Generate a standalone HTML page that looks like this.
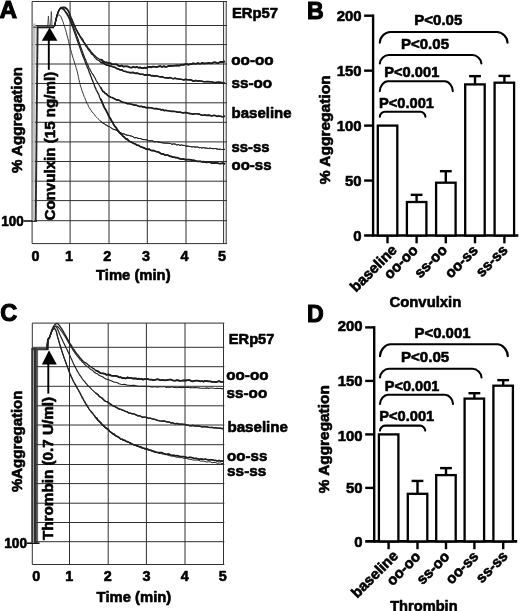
<!DOCTYPE html>
<html><head><meta charset="utf-8"><title>Figure</title>
<style>
html,body{margin:0;padding:0;background:#fff;}
body{width:520px;height:611px;overflow:hidden;}
svg{display:block;}
svg text{font-family:"Liberation Sans", sans-serif;font-weight:bold;fill:#000;stroke:#000;stroke-width:0.6px;stroke-linejoin:round;}
svg text.pl{stroke-width:1.1px;stroke-linejoin:miter;}
</style></head><body>
<svg width="520" height="611" viewBox="0 0 520 611">
<rect x="0" y="0" width="520" height="611" fill="#fff"/>
<line x1="32.1" y1="1.5" x2="32.1" y2="243.6" stroke="#303030" stroke-width="1.0" stroke-linecap="butt"/>
<line x1="70.1" y1="1.5" x2="70.1" y2="243.6" stroke="#303030" stroke-width="1.0" stroke-linecap="butt"/>
<line x1="109.0" y1="1.5" x2="109.0" y2="243.6" stroke="#303030" stroke-width="1.0" stroke-linecap="butt"/>
<line x1="147.3" y1="1.5" x2="147.3" y2="243.6" stroke="#303030" stroke-width="1.0" stroke-linecap="butt"/>
<line x1="186.0" y1="1.5" x2="186.0" y2="243.6" stroke="#303030" stroke-width="1.0" stroke-linecap="butt"/>
<line x1="223.6" y1="1.5" x2="223.6" y2="243.6" stroke="#303030" stroke-width="1.0" stroke-linecap="butt"/>
<line x1="226.2" y1="1.5" x2="226.2" y2="243.6" stroke="#303030" stroke-width="1.0" stroke-linecap="butt"/>
<line x1="32.1" y1="1.5" x2="227.0" y2="1.5" stroke="#303030" stroke-width="1.0" stroke-linecap="butt"/>
<line x1="32.1" y1="25.5" x2="227.0" y2="25.5" stroke="#303030" stroke-width="1.0" stroke-linecap="butt"/>
<line x1="32.1" y1="44.6" x2="227.0" y2="44.6" stroke="#303030" stroke-width="1.0" stroke-linecap="butt"/>
<line x1="32.1" y1="64.0" x2="227.0" y2="64.0" stroke="#303030" stroke-width="1.0" stroke-linecap="butt"/>
<line x1="32.1" y1="83.5" x2="227.0" y2="83.5" stroke="#303030" stroke-width="1.0" stroke-linecap="butt"/>
<line x1="32.1" y1="102.8" x2="227.0" y2="102.8" stroke="#303030" stroke-width="1.0" stroke-linecap="butt"/>
<line x1="32.1" y1="122.3" x2="227.0" y2="122.3" stroke="#303030" stroke-width="1.0" stroke-linecap="butt"/>
<line x1="32.1" y1="141.9" x2="227.0" y2="141.9" stroke="#303030" stroke-width="1.0" stroke-linecap="butt"/>
<line x1="32.1" y1="161.5" x2="227.0" y2="161.5" stroke="#303030" stroke-width="1.0" stroke-linecap="butt"/>
<line x1="32.1" y1="181.2" x2="227.0" y2="181.2" stroke="#303030" stroke-width="1.0" stroke-linecap="butt"/>
<line x1="32.1" y1="200.6" x2="227.0" y2="200.6" stroke="#303030" stroke-width="1.0" stroke-linecap="butt"/>
<line x1="32.1" y1="220.7" x2="227.0" y2="220.7" stroke="#303030" stroke-width="1.0" stroke-linecap="butt"/>
<line x1="32.1" y1="243.6" x2="227.0" y2="243.6" stroke="#303030" stroke-width="1.0" stroke-linecap="butt"/>
<text x="-0.4" y="18.3" font-size="24.3" text-anchor="start" class="pl">A</text>
<text x="0" y="0" transform="translate(21.6 173) rotate(-90)" font-size="14.6" text-anchor="start" textLength="106" lengthAdjust="spacingAndGlyphs">% Aggregation</text>
<text x="0" y="0" transform="translate(54.6 220.6) rotate(-90)" font-size="14.6" text-anchor="start" textLength="148.8" lengthAdjust="spacingAndGlyphs">Convulxin (15 ng/ml)</text>
<text x="1.3" y="226.4" font-size="13.8" text-anchor="start" textLength="22.4" lengthAdjust="spacingAndGlyphs">100</text>
<line x1="23.5" y1="221.0" x2="37.0" y2="221.0" stroke="#111" stroke-width="1.6" stroke-linecap="butt"/>
<text x="35.6" y="260.6" font-size="14.4" text-anchor="middle">0</text>
<text x="68.9" y="260.6" font-size="14.4" text-anchor="middle">1</text>
<text x="107.3" y="260.6" font-size="14.4" text-anchor="middle">2</text>
<text x="146.0" y="260.6" font-size="14.4" text-anchor="middle">3</text>
<text x="184.4" y="260.6" font-size="14.4" text-anchor="middle">4</text>
<text x="222.1" y="260.6" font-size="14.4" text-anchor="middle">5</text>
<text x="96.0" y="279.9" font-size="14.8" text-anchor="start" textLength="74.6" lengthAdjust="spacingAndGlyphs">Time (min)</text>
<polygon points="32.6,23.5 35.6,23.5 34.4,221 32.6,221" fill="#c4c4c4"/>
<line x1="37.6" y1="26.6" x2="35.7" y2="221.0" stroke="#2a2a2a" stroke-width="1.9" stroke-linecap="butt"/>
<path d="M33 27.3 L37 27.3" stroke="#666" stroke-width="1.6" fill="none"/><path d="M37 27.3 L54 27.3" stroke="#1a1a1a" stroke-width="2" fill="none"/>
<path d="M47.6 27 L48.4 16 L49.2 26 L50.6 25 L51.3 11.5 L52 25 L53.5 26.5" stroke="#333" stroke-width="0.8" fill="none"/>
<polygon points="49.6,27.5 57.4,40.8 41.8,40.8" fill="#000"/>
<line x1="48.8" y1="40" x2="48.8" y2="69.8" stroke="#000" stroke-width="1.9" stroke-linecap="butt"/>
<path d="M54.4 26.5 L54.6 25.5 L54.9 24.2 L55.3 22.7 L55.7 20.9 L56.1 19.2 L56.5 17.5 L56.9 15.9 L57.3 14.6 L58.0 12.5 L58.8 10.8 L59.5 9.5 L60.2 8.4 L61.6 7.4 L63.0 7.2 L64.5 7.2 L66.0 7.9 L66.9 8.8 L67.9 9.9 L68.8 11.5 L69.3 12.7 L69.8 13.9 L70.3 15.5 L70.9 17.2 L71.7 18.9 L72.3 20.2 L72.9 21.9 L73.6 23.3 L74.3 25.0 L75.1 26.6 L75.8 28.2 L76.6 29.8 L77.3 30.9 L78.1 32.7 L79.0 33.9 L79.8 35.7 L80.7 37.0 L81.5 37.7 L82.4 39.0 L83.2 40.4 L84.1 42.4 L85.0 43.4 L85.9 44.9 L86.8 45.9 L87.7 47.4 L88.6 48.5 L89.8 49.9 L91.0 51.6 L92.2 52.9 L93.4 54.5 L94.6 55.4 L96.1 57.0 L97.5 58.0 L99.0 59.1 L100.4 59.6 L101.8 59.8 L103.2 61.3 L104.6 62.0 L106.0 62.5 L107.4 62.6 L108.8 63.3 L110.4 63.1 L112.0 64.3 L113.5 64.3 L115.1 64.4 L116.8 64.4 L118.4 65.7 L120.0 66.2 L121.7 65.5 L123.2 66.6 L124.9 66.4 L127.0 66.4 L128.4 66.7 L129.9 67.4 L131.6 67.6 L133.3 66.7 L135.1 67.5 L136.8 66.9 L138.5 67.8 L140.0 67.4 L141.7 68.1 L143.2 68.2 L144.6 67.6 L146.0 68.1 L147.8 67.2 L150.0 66.8 L151.2 67.4 L152.6 66.6 L154.0 66.7 L155.5 66.9 L157.1 67.0 L158.7 66.4 L160.4 66.1 L162.1 67.0 L163.7 66.2 L165.4 66.9 L167.0 66.7 L168.5 66.0 L170.0 66.0 L171.7 65.9 L173.3 65.9 L174.8 65.7 L176.4 65.5 L177.9 65.4 L179.4 65.6 L180.9 64.9 L182.4 64.6 L183.9 64.8 L185.4 64.1 L187.0 64.1 L188.5 64.8 L190.0 64.1 L191.5 64.1 L193.1 63.3 L194.7 63.7 L196.2 63.8 L197.8 63.1 L199.3 63.7 L200.8 63.7 L202.3 62.9 L203.7 63.5 L205.0 63.3 L206.9 63.4 L208.7 62.9 L210.5 63.3 L212.2 63.2 L213.8 62.3 L215.3 62.3 L216.7 62.9 L218.0 63.2 L220.3 62.0 L222.3 62.0 L223.9 61.8 L225.0 61.3" fill="none" stroke="#1c1c1c" stroke-width="1.3" stroke-linejoin="round"/>
<path d="M100.4 59.6 L101.8 59.8 L103.2 61.3 L104.6 62.0 L106.0 62.5 L107.4 62.6 L108.8 63.3 L110.4 63.1 L112.0 64.3 L113.5 64.3 L115.1 64.4 L116.8 64.4 L118.4 65.7 L120.0 66.2 L121.7 65.5 L123.2 66.6 L124.9 66.4 L127.0 66.4 L128.4 66.7 L129.9 67.4 L131.6 67.6 L133.3 66.7 L135.1 67.5 L136.8 66.9 L138.5 67.8 L140.0 67.4 L141.7 68.1 L143.2 68.2 L144.6 67.6 L146.0 68.1 L147.8 67.2 L150.0 66.8 L151.2 67.4 L152.6 66.6 L154.0 66.7 L155.5 66.9 L157.1 67.0 L158.7 66.4 L160.4 66.1 L162.1 67.0 L163.7 66.2 L165.4 66.9 L167.0 66.7 L168.5 66.0 L170.0 66.0 L171.7 65.9 L173.3 65.9 L174.8 65.7 L176.4 65.5 L177.9 65.4 L179.4 65.6 L180.9 64.9 L182.4 64.6 L183.9 64.8 L185.4 64.1 L187.0 64.1 L188.5 64.8 L190.0 64.1 L191.5 64.1 L193.1 63.3 L194.7 63.7 L196.2 63.8 L197.8 63.1 L199.3 63.7 L200.8 63.7 L202.3 62.9 L203.7 63.5 L205.0 63.3 L206.9 63.4 L208.7 62.9 L210.5 63.3 L212.2 63.2 L213.8 62.3 L215.3 62.3 L216.7 62.9 L218.0 63.2 L220.3 62.0 L222.3 62.0 L223.9 61.8 L225.0 61.3" fill="none" stroke="#1c1c1c" stroke-width="1.8" stroke-linejoin="round"/>
<path d="M54.4 26.5 L54.6 25.5 L54.9 24.2 L55.3 22.7 L55.7 20.9 L56.1 19.2 L56.5 17.5 L56.9 15.9 L57.3 14.6 L58.0 12.5 L58.8 10.8 L59.5 9.4 L60.2 8.4 L61.6 7.7 L63.0 7.8 L64.5 7.9 L66.0 8.6 L66.9 9.4 L67.9 10.6 L68.8 12.2 L69.3 13.4 L69.8 14.7 L70.3 16.3 L70.9 17.9 L71.7 19.8 L72.3 21.2 L72.9 22.7 L73.6 24.1 L74.3 25.7 L75.1 27.3 L75.8 29.0 L76.6 30.4 L77.3 32.1 L78.1 33.7 L79.0 34.9 L79.8 36.3 L80.7 38.0 L81.5 39.3 L82.4 40.7 L83.2 41.7 L84.1 43.0 L85.0 44.5 L85.9 46.3 L86.8 47.2 L87.7 48.6 L88.6 49.9 L89.6 51.2 L90.6 52.4 L91.6 54.2 L92.6 54.6 L93.6 55.5 L94.6 57.4 L96.1 58.7 L97.5 60.0 L99.0 60.5 L100.4 62.0 L101.8 62.8 L103.2 62.8 L104.6 64.0 L106.0 64.7 L107.4 65.2 L108.8 65.6 L110.4 65.9 L112.0 66.5 L113.5 67.0 L115.1 67.4 L116.8 68.6 L118.4 68.9 L120.0 69.9 L121.7 69.7 L123.2 71.0 L124.9 71.3 L127.0 72.0 L128.4 72.3 L129.9 72.6 L131.6 72.6 L133.3 72.4 L135.1 73.4 L136.8 73.1 L138.5 73.5 L140.0 74.2 L141.7 74.3 L143.2 74.4 L144.6 75.1 L146.0 74.9 L147.8 74.9 L150.0 75.1 L151.2 75.8 L152.6 75.6 L154.0 76.1 L155.5 75.9 L157.1 76.0 L158.7 76.5 L160.4 77.0 L162.1 76.6 L163.7 77.5 L165.4 77.8 L167.0 77.9 L168.5 78.1 L170.0 77.5 L171.7 78.3 L173.3 78.8 L174.8 78.2 L176.4 78.6 L177.9 78.7 L179.4 79.2 L180.9 79.3 L182.4 79.5 L183.9 79.9 L185.4 79.3 L187.0 79.6 L188.5 79.8 L189.9 79.9 L191.4 80.0 L192.9 81.0 L194.3 81.1 L195.8 80.4 L197.3 81.0 L198.8 80.9 L200.3 81.0 L201.9 81.2 L203.4 81.6 L205.0 81.7 L206.5 81.6 L208.2 81.5 L209.9 81.8 L211.7 81.7 L213.5 82.3 L215.2 82.6 L217.0 82.3 L218.7 82.2 L220.3 82.4 L221.7 82.6 L223.0 83.0 L224.1 83.2 L225.0 82.9" fill="none" stroke="#1c1c1c" stroke-width="1.2" stroke-linejoin="round"/>
<path d="M100.4 62.0 L101.8 62.8 L103.2 62.8 L104.6 64.0 L106.0 64.7 L107.4 65.2 L108.8 65.6 L110.4 65.9 L112.0 66.5 L113.5 67.0 L115.1 67.4 L116.8 68.6 L118.4 68.9 L120.0 69.9 L121.7 69.7 L123.2 71.0 L124.9 71.3 L127.0 72.0 L128.4 72.3 L129.9 72.6 L131.6 72.6 L133.3 72.4 L135.1 73.4 L136.8 73.1 L138.5 73.5 L140.0 74.2 L141.7 74.3 L143.2 74.4 L144.6 75.1 L146.0 74.9 L147.8 74.9 L150.0 75.1 L151.2 75.8 L152.6 75.6 L154.0 76.1 L155.5 75.9 L157.1 76.0 L158.7 76.5 L160.4 77.0 L162.1 76.6 L163.7 77.5 L165.4 77.8 L167.0 77.9 L168.5 78.1 L170.0 77.5 L171.7 78.3 L173.3 78.8 L174.8 78.2 L176.4 78.6 L177.9 78.7 L179.4 79.2 L180.9 79.3 L182.4 79.5 L183.9 79.9 L185.4 79.3 L187.0 79.6 L188.5 79.8 L189.9 79.9 L191.4 80.0 L192.9 81.0 L194.3 81.1 L195.8 80.4 L197.3 81.0 L198.8 80.9 L200.3 81.0 L201.9 81.2 L203.4 81.6 L205.0 81.7 L206.5 81.6 L208.2 81.5 L209.9 81.8 L211.7 81.7 L213.5 82.3 L215.2 82.6 L217.0 82.3 L218.7 82.2 L220.3 82.4 L221.7 82.6 L223.0 83.0 L224.1 83.2 L225.0 82.9" fill="none" stroke="#1c1c1c" stroke-width="1.6" stroke-linejoin="round"/>
<path d="M54.4 26.5 L54.6 25.5 L54.9 24.2 L55.3 22.7 L55.7 20.9 L56.1 19.2 L56.5 17.5 L56.9 15.9 L57.3 14.6 L58.0 12.5 L58.8 10.8 L59.5 9.4 L60.2 8.4 L61.4 7.9 L62.5 8.4 L63.4 8.7 L64.5 9.8 L65.2 10.8 L66.1 12.0 L67.1 13.4 L68.1 14.9 L69.0 16.5 L69.7 17.8 L70.4 19.3 L71.0 20.7 L71.7 22.3 L72.3 23.9 L73.0 25.5 L73.5 26.9 L74.0 28.2 L74.6 29.5 L75.1 31.1 L75.6 32.4 L76.2 34.0 L76.8 35.9 L77.4 37.3 L77.9 38.7 L78.5 40.3 L79.0 42.3 L79.6 43.6 L80.2 45.1 L80.8 47.3 L81.4 48.4 L82.0 50.4 L82.5 51.8 L83.0 53.2 L83.7 55.3 L84.4 56.8 L85.0 58.6 L85.6 59.5 L86.2 61.5 L86.8 62.7 L87.5 64.4 L88.1 65.3 L88.7 67.1 L89.3 68.6 L90.0 69.1 L90.7 70.7 L91.5 72.4 L92.4 74.0 L93.2 74.8 L94.0 76.2 L94.8 77.6 L95.6 79.3 L96.3 80.8 L97.1 81.9 L98.0 83.3 L98.7 84.5 L99.5 85.8 L100.3 87.2 L101.1 88.1 L102.0 89.8 L103.0 91.5 L104.1 92.0 L105.1 93.4 L106.3 93.8 L107.5 95.3 L109.0 96.3 L110.8 97.2 L112.0 97.6 L113.4 98.2 L114.8 99.0 L116.3 99.9 L117.9 99.8 L119.5 100.4 L121.2 101.6 L122.8 102.4 L124.4 102.5 L126.0 102.9 L127.5 103.7 L129.0 103.6 L130.5 104.0 L132.0 104.3 L133.5 105.0 L135.1 105.1 L136.6 105.3 L138.2 106.1 L139.8 106.6 L141.5 106.3 L142.9 107.0 L144.3 106.9 L145.7 107.6 L147.1 107.6 L148.6 107.5 L150.0 107.7 L151.5 107.8 L153.1 108.5 L154.7 108.6 L156.4 108.6 L158.2 109.1 L160.0 109.3 L161.3 110.0 L162.7 109.5 L164.1 110.6 L165.6 110.3 L167.1 110.6 L168.7 110.7 L170.3 111.2 L171.9 111.4 L173.5 111.4 L175.2 111.5 L176.8 111.9 L178.4 112.3 L179.9 112.0 L181.4 112.5 L182.9 113.0 L184.3 112.6 L185.7 112.6 L187.0 112.7 L188.8 113.4 L190.5 113.6 L192.1 114.1 L193.6 114.1 L195.0 113.7 L196.4 113.8 L197.8 114.0 L199.2 114.1 L200.6 114.8 L202.0 115.1 L203.5 115.2 L205.0 114.8 L206.5 115.5 L208.2 115.1 L209.9 115.4 L211.7 115.9 L213.5 115.4 L215.2 115.5 L217.0 116.4 L218.7 116.0 L220.3 116.2 L221.7 116.6 L223.0 116.8 L224.1 116.2 L225.0 116.6" fill="none" stroke="#1c1c1c" stroke-width="1.1" stroke-linejoin="round"/>
<path d="M100.3 87.2 L101.1 88.1 L102.0 89.8 L103.0 91.5 L104.1 92.0 L105.1 93.4 L106.3 93.8 L107.5 95.3 L109.0 96.3 L110.8 97.2 L112.0 97.6 L113.4 98.2 L114.8 99.0 L116.3 99.9 L117.9 99.8 L119.5 100.4 L121.2 101.6 L122.8 102.4 L124.4 102.5 L126.0 102.9 L127.5 103.7 L129.0 103.6 L130.5 104.0 L132.0 104.3 L133.5 105.0 L135.1 105.1 L136.6 105.3 L138.2 106.1 L139.8 106.6 L141.5 106.3 L142.9 107.0 L144.3 106.9 L145.7 107.6 L147.1 107.6 L148.6 107.5 L150.0 107.7 L151.5 107.8 L153.1 108.5 L154.7 108.6 L156.4 108.6 L158.2 109.1 L160.0 109.3 L161.3 110.0 L162.7 109.5 L164.1 110.6 L165.6 110.3 L167.1 110.6 L168.7 110.7 L170.3 111.2 L171.9 111.4 L173.5 111.4 L175.2 111.5 L176.8 111.9 L178.4 112.3 L179.9 112.0 L181.4 112.5 L182.9 113.0 L184.3 112.6 L185.7 112.6 L187.0 112.7 L188.8 113.4 L190.5 113.6 L192.1 114.1 L193.6 114.1 L195.0 113.7 L196.4 113.8 L197.8 114.0 L199.2 114.1 L200.6 114.8 L202.0 115.1 L203.5 115.2 L205.0 114.8 L206.5 115.5 L208.2 115.1 L209.9 115.4 L211.7 115.9 L213.5 115.4 L215.2 115.5 L217.0 116.4 L218.7 116.0 L220.3 116.2 L221.7 116.6 L223.0 116.8 L224.1 116.2 L225.0 116.6" fill="none" stroke="#1c1c1c" stroke-width="1.6" stroke-linejoin="round"/>
<path d="M54.4 26.5 L54.6 25.5 L54.9 24.2 L55.3 22.7 L55.7 20.9 L56.1 19.2 L56.5 17.5 L56.9 15.9 L57.3 14.6 L58.1 12.5 L58.8 10.7 L59.6 9.4 L60.2 8.4 L61.2 8.1 L62.0 8.8 L62.8 9.0 L64.0 10.0 L64.7 11.0 L65.6 12.3 L66.6 13.8 L67.5 15.4 L68.4 17.0 L69.0 18.2 L69.6 19.6 L70.2 21.0 L70.8 22.3 L71.4 23.8 L72.0 25.3 L72.5 26.7 L73.0 28.0 L73.5 29.6 L74.0 31.1 L74.6 32.6 L75.1 34.0 L75.7 35.9 L76.3 37.6 L76.8 38.8 L77.4 40.7 L77.9 42.2 L78.5 43.5 L79.1 45.6 L79.7 46.9 L80.2 48.6 L80.8 50.3 L81.3 51.7 L81.8 53.0 L82.5 55.1 L83.2 56.7 L83.8 58.2 L84.4 59.6 L84.9 61.0 L85.5 62.9 L86.1 64.5 L86.8 65.8 L87.3 67.4 L87.9 68.4 L88.5 69.8 L89.0 71.3 L89.5 73.1 L90.0 73.7 L90.6 75.7 L91.3 77.2 L91.8 79.1 L92.5 80.3 L93.1 82.0 L93.8 83.8 L94.5 85.7 L95.2 87.6 L95.8 88.6 L96.3 90.3 L97.1 91.4 L97.6 92.4 L98.5 94.1 L99.0 95.2 L99.6 97.2 L100.2 98.5 L100.9 99.5 L101.7 101.1 L102.4 103.0 L103.2 104.9 L103.9 106.6 L104.6 107.9 L105.4 109.3 L106.1 110.4 L106.9 112.1 L107.6 113.4 L108.4 115.2 L109.1 116.7 L110.0 117.8 L110.8 119.3 L111.6 121.1 L112.4 121.7 L113.3 123.8 L114.1 125.2 L115.0 126.6 L115.9 127.3 L116.8 128.8 L117.6 130.0 L118.5 131.1 L119.6 132.8 L120.6 133.7 L121.7 134.5 L122.8 136.1 L123.8 136.7 L124.9 137.8 L126.0 138.8 L127.3 139.1 L128.6 140.8 L129.9 141.5 L131.2 142.1 L132.5 142.8 L133.8 143.5 L135.3 144.0 L136.9 145.1 L138.4 145.3 L140.0 146.4 L141.5 147.1 L143.0 147.5 L144.4 148.1 L145.9 148.9 L147.5 149.3 L149.2 149.1 L150.6 150.2 L152.1 150.6 L153.7 150.5 L155.3 151.3 L156.9 151.7 L158.5 152.1 L160.0 153.0 L161.6 154.0 L163.1 153.8 L164.6 154.9 L166.2 155.2 L167.9 155.1 L170.0 156.4 L171.3 156.4 L172.7 157.1 L174.1 157.2 L175.6 157.6 L177.2 157.6 L178.8 158.4 L180.5 158.9 L182.1 159.1 L183.8 159.0 L185.4 159.7 L187.0 159.7 L188.5 159.6 L189.9 159.7 L191.4 160.0 L192.9 160.3 L194.3 160.4 L195.8 161.0 L197.3 161.3 L198.8 161.4 L200.3 161.4 L201.9 161.8 L203.4 161.6 L205.0 162.0 L206.5 162.4 L208.2 162.2 L209.9 162.2 L211.7 163.1 L213.5 163.1 L215.2 162.9 L217.0 163.0 L218.7 163.4 L220.3 163.6 L221.7 163.3 L223.0 163.2 L224.1 163.5 L225.0 164.2" fill="none" stroke="#1c1c1c" stroke-width="1.3" stroke-linejoin="round"/>
<path d="M100.2 98.5 L100.9 99.5 L101.7 101.1 L102.4 103.0 L103.2 104.9 L103.9 106.6 L104.6 107.9 L105.4 109.3 L106.1 110.4 L106.9 112.1 L107.6 113.4 L108.4 115.2 L109.1 116.7 L110.0 117.8 L110.8 119.3 L111.6 121.1 L112.4 121.7 L113.3 123.8 L114.1 125.2 L115.0 126.6 L115.9 127.3 L116.8 128.8 L117.6 130.0 L118.5 131.1 L119.6 132.8 L120.6 133.7 L121.7 134.5 L122.8 136.1 L123.8 136.7 L124.9 137.8 L126.0 138.8 L127.3 139.1 L128.6 140.8 L129.9 141.5 L131.2 142.1 L132.5 142.8 L133.8 143.5 L135.3 144.0 L136.9 145.1 L138.4 145.3 L140.0 146.4 L141.5 147.1 L143.0 147.5 L144.4 148.1 L145.9 148.9 L147.5 149.3 L149.2 149.1 L150.6 150.2 L152.1 150.6 L153.7 150.5 L155.3 151.3 L156.9 151.7 L158.5 152.1 L160.0 153.0 L161.6 154.0 L163.1 153.8 L164.6 154.9 L166.2 155.2 L167.9 155.1 L170.0 156.4 L171.3 156.4 L172.7 157.1 L174.1 157.2 L175.6 157.6 L177.2 157.6 L178.8 158.4 L180.5 158.9 L182.1 159.1 L183.8 159.0 L185.4 159.7 L187.0 159.7 L188.5 159.6 L189.9 159.7 L191.4 160.0 L192.9 160.3 L194.3 160.4 L195.8 161.0 L197.3 161.3 L198.8 161.4 L200.3 161.4 L201.9 161.8 L203.4 161.6 L205.0 162.0 L206.5 162.4 L208.2 162.2 L209.9 162.2 L211.7 163.1 L213.5 163.1 L215.2 162.9 L217.0 163.0 L218.7 163.4 L220.3 163.6 L221.7 163.3 L223.0 163.2 L224.1 163.5 L225.0 164.2" fill="none" stroke="#1c1c1c" stroke-width="1.7" stroke-linejoin="round"/>
<path d="M54.4 26.5 L54.7 25.3 L55.0 23.5 L55.5 21.6 L55.9 19.7 L56.3 18.3 L57.1 16.5 L57.8 15.6 L58.5 15.0 L59.2 14.9 L59.9 15.3 L60.6 16.2 L61.2 17.2 L62.0 19.2 L62.4 20.3 L62.9 21.6 L63.4 23.1 L63.9 24.6 L64.5 26.3 L65.0 27.9 L65.4 29.3 L65.9 30.9 L66.3 32.4 L66.7 34.0 L67.1 35.6 L67.5 37.1 L67.9 38.5 L68.3 40.1 L68.6 41.6 L68.9 43.0 L69.3 44.5 L69.8 46.5 L70.2 47.8 L70.6 49.3 L71.0 50.7 L71.5 52.4 L71.9 54.0 L72.4 55.8 L72.9 57.4 L73.4 58.9 L73.8 60.3 L74.3 62.0 L74.7 63.5 L75.1 64.8 L75.6 65.9 L76.0 67.3 L76.4 68.7 L76.9 70.3 L77.3 71.8 L77.6 73.2 L78.0 74.9 L78.3 76.5 L78.6 77.7 L78.9 79.6 L79.3 81.0 L79.7 82.7 L80.1 84.4 L80.5 86.1 L81.0 87.3 L81.5 88.8 L81.9 90.4 L82.4 92.0 L83.0 93.1 L83.5 94.7 L84.1 96.5 L84.7 97.6 L85.3 99.2 L85.9 100.6 L86.5 102.2 L87.1 103.7 L87.7 104.4 L88.5 106.3 L89.3 107.8 L90.2 109.2 L91.1 110.3 L91.9 111.9 L92.8 112.6 L93.7 113.8 L94.5 114.7 L95.4 116.2 L96.7 117.4 L97.9 118.6 L99.2 119.7 L100.5 121.2 L101.7 122.1 L103.0 123.2 L104.3 123.8 L105.6 124.8 L106.9 125.3 L108.2 126.5 L109.5 126.6 L110.8 127.7 L112.3 128.7 L113.9 129.5 L115.4 129.8 L117.0 130.6 L118.5 131.8 L119.9 132.3 L121.1 133.0 L122.4 133.6 L124.0 133.9 L126.0 134.9 L127.2 135.2 L128.5 135.3 L130.0 135.8 L131.5 136.1 L133.1 136.8 L134.7 137.8 L136.4 137.6 L138.1 138.4 L139.8 138.5 L141.5 138.9 L142.9 139.6 L144.3 139.6 L145.7 139.7 L147.1 140.0 L148.6 140.7 L150.0 140.9 L151.5 140.7 L153.1 141.1 L154.7 141.9 L156.4 141.5 L158.2 142.1 L160.0 142.2 L161.3 142.7 L162.7 142.8 L164.1 143.1 L165.6 143.1 L167.1 143.1 L168.7 143.3 L170.3 143.4 L171.9 144.3 L173.5 143.9 L175.2 144.1 L176.8 145.0 L178.4 144.6 L179.9 145.4 L181.4 144.9 L182.9 145.4 L184.3 145.4 L185.7 146.1 L187.0 146.1 L188.8 146.3 L190.5 146.6 L192.1 146.9 L193.6 146.7 L195.0 147.1 L196.4 147.1 L197.8 147.0 L199.2 147.7 L200.6 147.6 L202.0 148.0 L203.5 147.6 L205.0 148.0 L206.5 148.1 L208.2 148.5 L209.9 148.1 L211.7 148.5 L213.5 148.7 L215.2 148.5 L217.0 149.0 L218.7 149.3 L220.3 149.2 L221.7 149.5 L223.0 149.5 L224.1 149.3 L225.0 149.5" fill="none" stroke="#1c1c1c" stroke-width="0.9" stroke-linejoin="round"/>
<path d="M100.5 121.2 L101.7 122.1 L103.0 123.2 L104.3 123.8 L105.6 124.8 L106.9 125.3 L108.2 126.5 L109.5 126.6 L110.8 127.7 L112.3 128.7 L113.9 129.5 L115.4 129.8 L117.0 130.6 L118.5 131.8 L119.9 132.3 L121.1 133.0 L122.4 133.6 L124.0 133.9 L126.0 134.9 L127.2 135.2 L128.5 135.3 L130.0 135.8 L131.5 136.1 L133.1 136.8 L134.7 137.8 L136.4 137.6 L138.1 138.4 L139.8 138.5 L141.5 138.9 L142.9 139.6 L144.3 139.6 L145.7 139.7 L147.1 140.0 L148.6 140.7 L150.0 140.9 L151.5 140.7 L153.1 141.1 L154.7 141.9 L156.4 141.5 L158.2 142.1 L160.0 142.2 L161.3 142.7 L162.7 142.8 L164.1 143.1 L165.6 143.1 L167.1 143.1 L168.7 143.3 L170.3 143.4 L171.9 144.3 L173.5 143.9 L175.2 144.1 L176.8 145.0 L178.4 144.6 L179.9 145.4 L181.4 144.9 L182.9 145.4 L184.3 145.4 L185.7 146.1 L187.0 146.1 L188.8 146.3 L190.5 146.6 L192.1 146.9 L193.6 146.7 L195.0 147.1 L196.4 147.1 L197.8 147.0 L199.2 147.7 L200.6 147.6 L202.0 148.0 L203.5 147.6 L205.0 148.0 L206.5 148.1 L208.2 148.5 L209.9 148.1 L211.7 148.5 L213.5 148.7 L215.2 148.5 L217.0 149.0 L218.7 149.3 L220.3 149.2 L221.7 149.5 L223.0 149.5 L224.1 149.3 L225.0 149.5" fill="none" stroke="#1c1c1c" stroke-width="1.0" stroke-linejoin="round"/>
<text x="231.9" y="17.7" font-size="14.9" text-anchor="start" textLength="46.2" lengthAdjust="spacingAndGlyphs">ERp57</text>
<text x="231.3" y="64.5" font-size="15.2" text-anchor="start" textLength="42.4" lengthAdjust="spacingAndGlyphs">oo-oo</text>
<text x="231.5" y="87.5" font-size="15.2" text-anchor="start" textLength="40.7" lengthAdjust="spacingAndGlyphs">ss-oo</text>
<text x="231.6" y="117.6" font-size="15.2" text-anchor="start" textLength="60.0" lengthAdjust="spacingAndGlyphs">baseline</text>
<text x="231.5" y="152.0" font-size="15.2" text-anchor="start" textLength="38.0" lengthAdjust="spacingAndGlyphs">ss-ss</text>
<text x="231.5" y="169.5" font-size="15.2" text-anchor="start" textLength="40.0" lengthAdjust="spacingAndGlyphs">oo-ss</text>
<line x1="32.3" y1="323.1" x2="32.3" y2="564.5" stroke="#303030" stroke-width="1.0" stroke-linecap="butt"/>
<line x1="69.5" y1="323.1" x2="69.5" y2="564.5" stroke="#303030" stroke-width="1.0" stroke-linecap="butt"/>
<line x1="108.2" y1="323.1" x2="108.2" y2="564.5" stroke="#303030" stroke-width="1.0" stroke-linecap="butt"/>
<line x1="146.4" y1="323.1" x2="146.4" y2="564.5" stroke="#303030" stroke-width="1.0" stroke-linecap="butt"/>
<line x1="185.0" y1="323.1" x2="185.0" y2="564.5" stroke="#303030" stroke-width="1.0" stroke-linecap="butt"/>
<line x1="223.5" y1="323.1" x2="223.5" y2="564.5" stroke="#303030" stroke-width="1.0" stroke-linecap="butt"/>
<line x1="32.3" y1="323.1" x2="224.3" y2="323.1" stroke="#303030" stroke-width="1.0" stroke-linecap="butt"/>
<line x1="32.3" y1="347.3" x2="224.3" y2="347.3" stroke="#303030" stroke-width="1.0" stroke-linecap="butt"/>
<line x1="32.3" y1="366.7" x2="224.3" y2="366.7" stroke="#303030" stroke-width="1.0" stroke-linecap="butt"/>
<line x1="32.3" y1="386.3" x2="224.3" y2="386.3" stroke="#303030" stroke-width="1.0" stroke-linecap="butt"/>
<line x1="32.3" y1="405.8" x2="224.3" y2="405.8" stroke="#303030" stroke-width="1.0" stroke-linecap="butt"/>
<line x1="32.3" y1="425.0" x2="224.3" y2="425.0" stroke="#303030" stroke-width="1.0" stroke-linecap="butt"/>
<line x1="32.3" y1="444.7" x2="224.3" y2="444.7" stroke="#303030" stroke-width="1.0" stroke-linecap="butt"/>
<line x1="32.3" y1="464.5" x2="224.3" y2="464.5" stroke="#303030" stroke-width="1.0" stroke-linecap="butt"/>
<line x1="32.3" y1="483.6" x2="224.3" y2="483.6" stroke="#303030" stroke-width="1.0" stroke-linecap="butt"/>
<line x1="32.3" y1="503.2" x2="224.3" y2="503.2" stroke="#303030" stroke-width="1.0" stroke-linecap="butt"/>
<line x1="32.3" y1="522.5" x2="224.3" y2="522.5" stroke="#303030" stroke-width="1.0" stroke-linecap="butt"/>
<line x1="32.3" y1="541.7" x2="224.3" y2="541.7" stroke="#303030" stroke-width="1.0" stroke-linecap="butt"/>
<line x1="32.3" y1="564.5" x2="224.3" y2="564.5" stroke="#303030" stroke-width="1.0" stroke-linecap="butt"/>
<text x="0.2" y="320.7" font-size="24.8" text-anchor="start" textLength="17.0" lengthAdjust="spacingAndGlyphs" class="pl">C</text>
<text x="0" y="0" transform="translate(21.6 492) rotate(-90)" font-size="14.6" text-anchor="start" textLength="101.4" lengthAdjust="spacingAndGlyphs">%Aggregation</text>
<text x="0" y="0" transform="translate(53.2 540) rotate(-90)" font-size="14.6" text-anchor="start" textLength="143" lengthAdjust="spacingAndGlyphs">Thrombin (0.7 U/ml)</text>
<text x="4.2" y="547.8" font-size="13.8" text-anchor="start" textLength="22.8" lengthAdjust="spacingAndGlyphs">100</text>
<line x1="27" y1="543.2" x2="39.5" y2="543.2" stroke="#111" stroke-width="1.6" stroke-linecap="butt"/>
<text x="36.2" y="580.7" font-size="14.4" text-anchor="middle">0</text>
<text x="69.3" y="580.7" font-size="14.4" text-anchor="middle">1</text>
<text x="107.8" y="580.7" font-size="14.4" text-anchor="middle">2</text>
<text x="146.4" y="580.7" font-size="14.4" text-anchor="middle">3</text>
<text x="184.8" y="580.7" font-size="14.4" text-anchor="middle">4</text>
<text x="222.7" y="580.7" font-size="14.4" text-anchor="middle">5</text>
<text x="96.6" y="601.5" font-size="14.8" text-anchor="start" textLength="74.7" lengthAdjust="spacingAndGlyphs">Time (min)</text>
<rect x="31.3" y="348" width="5.5" height="195.2" fill="#2e2e2e"/>
<line x1="33.45" y1="349" x2="33.45" y2="543" stroke="#a8a8a8" stroke-width="1.0" stroke-linecap="butt"/>
<line x1="37.6" y1="349" x2="37.6" y2="543.2" stroke="#444" stroke-width="0.9" stroke-linecap="butt"/>
<path d="M33 349.2 L47.6 349.2" stroke="#3a3a3a" stroke-width="2.2" fill="none"/>
<path d="M47.7 350 L47.9 340 L49.5 337.5" stroke="#222" stroke-width="2" fill="none"/>
<polygon points="49,350.2 56.8,364.4 41.9,364.4" fill="#000"/>
<line x1="48.3" y1="364" x2="48.3" y2="393.6" stroke="#000" stroke-width="1.9" stroke-linecap="butt"/>
<path d="M47.1 349.4 L47.2 348.3 L47.2 346.7 L47.3 344.9 L47.5 343.0 L47.6 341.3 L47.8 340.0 L48.5 338.7 L49.5 337.5 L50.0 336.1 L50.6 334.3 L51.2 332.4 L51.8 330.5 L52.3 329.0 L53.1 327.2 L53.8 326.0 L54.5 325.0 L55.7 323.9 L56.9 323.5 L58.1 324.0 L59.5 325.6 L60.2 326.6 L61.0 327.8 L61.9 329.1 L62.8 330.6 L63.8 332.3 L64.5 333.6 L65.3 335.0 L66.2 336.6 L67.0 338.1 L67.9 339.7 L68.8 341.3 L69.6 342.7 L70.4 344.1 L71.3 345.4 L72.1 346.9 L72.9 348.3 L73.8 349.4 L74.6 350.6 L75.4 351.8 L76.5 353.4 L77.7 354.7 L78.8 356.1 L80.0 357.7 L81.1 358.9 L82.2 360.3 L83.4 361.4 L84.6 362.4 L85.7 362.9 L86.9 363.7 L88.4 365.0 L89.9 366.2 L91.5 367.3 L93.0 368.4 L94.4 369.1 L95.8 370.7 L97.3 370.9 L99.0 372.0 L100.3 373.0 L101.7 373.4 L103.2 373.3 L104.9 373.8 L106.6 374.9 L108.5 374.4 L109.8 374.9 L111.2 375.6 L112.7 375.9 L114.2 375.8 L115.8 375.9 L117.4 376.4 L119.1 377.3 L120.8 377.2 L122.5 378.1 L124.0 378.0 L125.6 378.5 L127.3 377.5 L129.1 377.9 L130.8 377.8 L132.6 378.5 L134.3 378.5 L135.9 378.3 L137.5 379.1 L138.8 378.6 L140.0 379.0 L142.1 379.0 L143.1 379.7 L144.1 379.2 L146.3 379.0 L147.4 378.8 L148.7 379.3 L150.1 379.6 L151.6 379.7 L153.2 380.1 L154.8 380.0 L156.5 379.4 L158.2 379.3 L160.0 380.1 L161.7 380.2 L163.4 380.0 L165.0 380.4 L166.5 380.1 L168.0 379.8 L169.5 379.7 L171.0 379.6 L172.5 380.3 L174.0 380.7 L175.6 380.7 L177.1 380.2 L178.6 380.5 L180.2 380.8 L181.7 380.7 L183.3 380.5 L184.8 380.3 L186.3 380.5 L187.9 380.1 L189.5 380.2 L191.0 380.8 L192.6 381.3 L194.2 380.8 L195.7 380.7 L197.3 380.7 L198.9 380.9 L200.4 381.4 L202.0 381.0 L203.5 381.7 L205.0 380.8 L206.7 381.0 L208.5 381.3 L210.3 381.3 L212.1 381.9 L214.0 381.9 L215.8 382.1 L217.5 381.7 L219.1 381.1 L220.6 381.8 L221.9 381.8 L223.1 381.8 L224.0 381.5" fill="none" stroke="#1c1c1c" stroke-width="1.3" stroke-linejoin="round"/>
<path d="M95.8 370.7 L97.3 370.9 L99.0 372.0 L100.3 373.0 L101.7 373.4 L103.2 373.3 L104.9 373.8 L106.6 374.9 L108.5 374.4 L109.8 374.9 L111.2 375.6 L112.7 375.9 L114.2 375.8 L115.8 375.9 L117.4 376.4 L119.1 377.3 L120.8 377.2 L122.5 378.1 L124.0 378.0 L125.6 378.5 L127.3 377.5 L129.1 377.9 L130.8 377.8 L132.6 378.5 L134.3 378.5 L135.9 378.3 L137.5 379.1 L138.8 378.6 L140.0 379.0 L142.1 379.0 L143.1 379.7 L144.1 379.2 L146.3 379.0 L147.4 378.8 L148.7 379.3 L150.1 379.6 L151.6 379.7 L153.2 380.1 L154.8 380.0 L156.5 379.4 L158.2 379.3 L160.0 380.1 L161.7 380.2 L163.4 380.0 L165.0 380.4 L166.5 380.1 L168.0 379.8 L169.5 379.7 L171.0 379.6 L172.5 380.3 L174.0 380.7 L175.6 380.7 L177.1 380.2 L178.6 380.5 L180.2 380.8 L181.7 380.7 L183.3 380.5 L184.8 380.3 L186.3 380.5 L187.9 380.1 L189.5 380.2 L191.0 380.8 L192.6 381.3 L194.2 380.8 L195.7 380.7 L197.3 380.7 L198.9 380.9 L200.4 381.4 L202.0 381.0 L203.5 381.7 L205.0 380.8 L206.7 381.0 L208.5 381.3 L210.3 381.3 L212.1 381.9 L214.0 381.9 L215.8 382.1 L217.5 381.7 L219.1 381.1 L220.6 381.8 L221.9 381.8 L223.1 381.8 L224.0 381.5" fill="none" stroke="#1c1c1c" stroke-width="1.8" stroke-linejoin="round"/>
<path d="M47.1 349.4 L47.2 348.3 L47.2 346.7 L47.3 344.9 L47.5 343.0 L47.6 341.3 L47.8 340.0 L48.5 338.7 L49.5 337.5 L50.0 336.2 L50.6 334.4 L51.2 332.5 L51.8 330.8 L52.3 329.4 L53.3 327.6 L54.3 326.8 L55.3 326.1 L56.3 326.0 L57.5 326.5 L59.0 328.0 L59.8 329.0 L60.7 330.2 L61.7 331.5 L62.7 333.0 L63.8 334.6 L64.6 335.8 L65.4 337.2 L66.2 338.6 L67.1 340.1 L67.9 341.6 L68.8 343.0 L69.6 344.4 L70.4 345.8 L71.3 347.1 L72.1 348.5 L72.9 349.9 L73.8 351.1 L74.6 352.4 L75.4 353.6 L76.4 354.8 L77.3 356.2 L78.2 357.2 L79.2 358.3 L80.1 359.7 L81.1 360.4 L82.2 362.0 L83.4 362.9 L84.6 364.4 L85.7 365.3 L86.9 366.4 L88.1 367.1 L89.3 368.0 L90.6 369.4 L91.8 369.9 L93.0 370.8 L94.4 372.3 L95.8 373.2 L97.3 373.6 L99.0 375.3 L100.1 375.7 L101.3 376.3 L102.6 376.8 L103.9 377.8 L105.4 378.9 L106.9 379.2 L108.5 379.7 L109.8 380.3 L111.2 380.8 L112.7 381.4 L114.2 382.3 L115.8 382.2 L117.4 382.8 L119.1 383.7 L120.8 384.2 L122.5 384.5 L124.0 384.3 L125.6 384.6 L127.3 385.3 L129.1 385.2 L130.8 385.5 L132.6 385.4 L134.3 385.4 L135.9 385.7 L137.5 386.1 L138.8 386.3 L140.0 386.2 L142.1 386.3 L143.1 386.4 L144.1 386.3 L146.3 386.4 L147.4 386.7 L148.7 386.3 L150.1 386.6 L151.6 386.9 L153.2 386.9 L154.8 386.5 L156.5 387.1 L158.2 387.0 L160.0 386.6 L161.7 386.7 L163.4 386.7 L165.0 386.7 L166.5 387.4 L168.0 387.0 L169.5 387.4 L171.0 386.9 L172.5 386.9 L174.0 387.5 L175.6 387.5 L177.1 387.7 L178.6 387.5 L180.2 387.4 L181.7 387.6 L183.3 387.2 L184.8 387.5 L186.3 387.5 L187.9 387.3 L189.5 387.7 L191.0 387.5 L192.6 387.7 L194.2 387.6 L195.7 387.6 L197.3 387.7 L198.9 387.9 L200.4 388.2 L202.0 388.2 L203.5 388.2 L205.0 388.2 L206.7 387.9 L208.5 388.4 L210.3 388.0 L212.1 388.0 L214.0 388.3 L215.8 388.5 L217.5 388.3 L219.1 388.5 L220.6 388.3 L221.9 388.9 L223.1 388.5 L224.0 388.6" fill="none" stroke="#222" stroke-width="1.1" stroke-linejoin="round"/>
<path d="M47.1 349.4 L47.2 348.3 L47.2 346.7 L47.3 344.9 L47.5 343.0 L47.6 341.3 L47.8 340.0 L48.5 338.6 L49.5 337.5 L50.0 336.2 L50.6 334.5 L51.2 332.7 L51.8 331.1 L52.3 329.8 L53.2 328.2 L54.0 327.4 L54.9 326.7 L55.8 326.6 L56.6 327.3 L57.5 329.0 L58.1 330.3 L58.8 331.9 L59.5 333.8 L60.4 335.8 L61.0 337.0 L61.6 338.4 L62.3 339.8 L62.9 341.2 L63.6 342.7 L64.3 344.1 L65.0 345.5 L65.7 346.9 L66.3 348.2 L67.0 349.5 L67.6 350.9 L68.3 352.2 L68.9 353.6 L69.6 354.9 L70.3 356.4 L70.9 357.9 L71.6 359.3 L72.2 360.8 L72.9 362.3 L73.5 363.7 L74.2 365.1 L75.0 366.5 L75.7 368.0 L76.5 369.3 L77.2 370.9 L78.0 372.1 L78.8 373.5 L79.6 375.0 L80.5 376.0 L81.4 377.3 L82.3 378.8 L83.1 379.9 L84.0 380.8 L84.9 381.9 L85.8 383.2 L86.6 383.9 L87.7 385.6 L89.0 386.5 L89.9 387.4 L90.9 388.4 L92.0 389.6 L93.1 390.6 L94.3 391.8 L95.5 392.9 L96.7 393.8 L97.9 394.5 L99.0 396.2 L100.3 397.1 L101.6 397.7 L102.9 399.0 L104.1 400.2 L105.5 401.4 L106.9 401.6 L108.5 402.6 L109.7 403.7 L111.0 404.4 L112.3 405.5 L113.6 406.2 L115.0 406.6 L116.4 407.4 L117.9 408.3 L119.4 409.2 L120.9 409.4 L122.5 410.2 L123.9 410.5 L125.4 411.5 L126.9 411.6 L128.6 412.9 L130.2 413.1 L131.8 413.7 L133.5 413.8 L135.0 414.4 L136.5 415.1 L137.9 415.8 L139.1 415.9 L140.2 416.0 L142.2 417.2 L143.2 417.1 L144.2 417.1 L146.3 417.3 L147.4 417.6 L148.7 418.4 L150.1 418.1 L151.6 418.7 L153.1 419.2 L154.8 419.3 L156.5 420.0 L158.2 420.5 L160.0 420.9 L161.7 421.1 L163.4 421.0 L165.0 421.2 L166.5 421.8 L168.0 422.0 L169.5 422.2 L171.0 423.0 L172.5 422.7 L174.0 423.5 L175.6 423.8 L177.1 423.4 L178.6 424.2 L180.2 424.1 L181.7 424.1 L183.3 424.3 L184.8 424.4 L186.3 425.0 L187.9 425.1 L189.5 425.7 L191.0 425.8 L192.6 425.4 L194.2 425.8 L195.7 426.0 L197.3 426.0 L198.9 426.2 L200.4 426.4 L202.0 426.9 L203.5 426.7 L205.0 426.7 L206.7 426.9 L208.5 427.3 L210.3 427.5 L212.1 427.4 L214.0 427.9 L215.8 427.7 L217.5 428.2 L219.1 428.3 L220.6 428.1 L221.9 428.6 L223.1 428.4 L224.0 428.6" fill="none" stroke="#222" stroke-width="1.2" stroke-linejoin="round"/>
<path d="M95.5 392.9 L96.7 393.8 L97.9 394.5 L99.0 396.2 L100.3 397.1 L101.6 397.7 L102.9 399.0 L104.1 400.2 L105.5 401.4 L106.9 401.6 L108.5 402.6 L109.7 403.7 L111.0 404.4 L112.3 405.5 L113.6 406.2 L115.0 406.6 L116.4 407.4 L117.9 408.3 L119.4 409.2 L120.9 409.4 L122.5 410.2 L123.9 410.5 L125.4 411.5 L126.9 411.6 L128.6 412.9 L130.2 413.1 L131.8 413.7 L133.5 413.8 L135.0 414.4 L136.5 415.1 L137.9 415.8 L139.1 415.9 L140.2 416.0 L142.2 417.2 L143.2 417.1 L144.2 417.1 L146.3 417.3 L147.4 417.6 L148.7 418.4 L150.1 418.1 L151.6 418.7 L153.1 419.2 L154.8 419.3 L156.5 420.0 L158.2 420.5 L160.0 420.9 L161.7 421.1 L163.4 421.0 L165.0 421.2 L166.5 421.8 L168.0 422.0 L169.5 422.2 L171.0 423.0 L172.5 422.7 L174.0 423.5 L175.6 423.8 L177.1 423.4 L178.6 424.2 L180.2 424.1 L181.7 424.1 L183.3 424.3 L184.8 424.4 L186.3 425.0 L187.9 425.1 L189.5 425.7 L191.0 425.8 L192.6 425.4 L194.2 425.8 L195.7 426.0 L197.3 426.0 L198.9 426.2 L200.4 426.4 L202.0 426.9 L203.5 426.7 L205.0 426.7 L206.7 426.9 L208.5 427.3 L210.3 427.5 L212.1 427.4 L214.0 427.9 L215.8 427.7 L217.5 428.2 L219.1 428.3 L220.6 428.1 L221.9 428.6 L223.1 428.4 L224.0 428.6" fill="none" stroke="#222" stroke-width="1.4" stroke-linejoin="round"/>
<path d="M47.1 349.4 L47.2 348.3 L47.2 346.7 L47.3 344.9 L47.5 343.0 L47.6 341.3 L47.8 340.0 L48.5 338.6 L49.5 337.5 L50.0 336.3 L50.6 334.7 L51.2 333.1 L51.8 331.5 L52.3 330.4 L53.0 329.3 L53.6 329.0 L54.2 328.6 L54.8 328.6 L55.5 329.3 L56.2 331.0 L56.6 332.3 L57.0 333.9 L57.4 335.8 L58.0 338.0 L58.4 339.2 L58.8 340.6 L59.2 342.1 L59.6 343.6 L60.1 345.1 L60.6 346.7 L61.1 348.2 L61.5 349.6 L62.0 351.2 L62.5 352.7 L63.0 354.2 L63.5 355.7 L64.0 357.2 L64.5 358.6 L65.0 360.0 L65.6 361.7 L66.2 363.3 L66.8 365.0 L67.4 366.5 L67.9 367.9 L68.4 369.2 L69.0 371.0 L69.5 372.3 L70.2 374.0 L70.8 375.3 L71.4 376.7 L72.2 378.2 L72.9 379.9 L73.7 381.5 L74.5 383.0 L75.3 384.3 L76.1 385.9 L76.9 387.2 L77.7 388.8 L78.5 390.0 L79.3 391.5 L80.1 392.9 L80.9 394.5 L81.6 396.1 L82.4 397.4 L83.2 398.8 L84.0 400.5 L84.8 401.6 L85.5 403.1 L86.2 404.0 L87.0 405.2 L87.9 406.9 L89.0 408.9 L89.8 409.9 L90.7 410.8 L91.6 411.9 L92.7 413.0 L93.7 414.5 L94.8 415.9 L95.9 417.8 L97.0 418.3 L98.0 420.3 L99.0 421.0 L100.2 422.2 L101.3 423.3 L102.4 425.0 L103.5 425.4 L104.6 426.8 L105.8 427.8 L107.1 428.6 L108.5 429.8 L109.6 431.3 L110.6 432.0 L111.7 432.8 L112.8 433.8 L114.0 433.9 L115.2 435.3 L116.5 436.2 L117.9 436.6 L119.3 437.7 L120.8 439.1 L122.5 439.3 L123.7 440.3 L124.9 440.3 L126.2 441.4 L127.5 441.6 L128.9 442.4 L130.4 442.9 L131.9 444.0 L133.4 444.5 L134.9 444.8 L136.4 445.6 L137.9 445.9 L139.4 446.8 L140.8 446.9 L142.3 447.7 L143.7 448.2 L145.0 448.5 L146.3 448.6 L148.0 449.3 L149.7 450.2 L151.3 450.3 L152.9 451.2 L154.4 451.4 L155.9 452.1 L157.4 452.4 L158.9 452.6 L160.4 452.6 L161.9 452.6 L163.4 453.4 L165.0 453.9 L166.5 454.4 L168.0 454.0 L169.5 454.3 L171.0 455.3 L172.5 455.3 L174.0 455.3 L175.6 455.8 L177.1 455.5 L178.6 456.1 L180.2 456.5 L181.7 456.6 L183.3 456.5 L184.8 456.7 L186.3 457.3 L187.9 457.8 L189.5 457.3 L191.0 457.4 L192.6 457.7 L194.2 458.5 L195.7 458.3 L197.3 458.6 L198.9 459.3 L200.4 459.1 L202.0 459.0 L203.5 459.5 L205.0 459.1 L206.7 459.5 L208.5 460.0 L210.3 459.7 L212.1 459.8 L214.0 460.4 L215.8 460.4 L217.5 461.1 L219.1 460.4 L220.6 461.2 L221.9 460.9 L223.1 461.4 L224.0 461.2" fill="none" stroke="#1c1c1c" stroke-width="1.2" stroke-linejoin="round"/>
<path d="M95.9 417.8 L97.0 418.3 L98.0 420.3 L99.0 421.0 L100.2 422.2 L101.3 423.3 L102.4 425.0 L103.5 425.4 L104.6 426.8 L105.8 427.8 L107.1 428.6 L108.5 429.8 L109.6 431.3 L110.6 432.0 L111.7 432.8 L112.8 433.8 L114.0 433.9 L115.2 435.3 L116.5 436.2 L117.9 436.6 L119.3 437.7 L120.8 439.1 L122.5 439.3 L123.7 440.3 L124.9 440.3 L126.2 441.4 L127.5 441.6 L128.9 442.4 L130.4 442.9 L131.9 444.0 L133.4 444.5 L134.9 444.8 L136.4 445.6 L137.9 445.9 L139.4 446.8 L140.8 446.9 L142.3 447.7 L143.7 448.2 L145.0 448.5 L146.3 448.6 L148.0 449.3 L149.7 450.2 L151.3 450.3 L152.9 451.2 L154.4 451.4 L155.9 452.1 L157.4 452.4 L158.9 452.6 L160.4 452.6 L161.9 452.6 L163.4 453.4 L165.0 453.9 L166.5 454.4 L168.0 454.0 L169.5 454.3 L171.0 455.3 L172.5 455.3 L174.0 455.3 L175.6 455.8 L177.1 455.5 L178.6 456.1 L180.2 456.5 L181.7 456.6 L183.3 456.5 L184.8 456.7 L186.3 457.3 L187.9 457.8 L189.5 457.3 L191.0 457.4 L192.6 457.7 L194.2 458.5 L195.7 458.3 L197.3 458.6 L198.9 459.3 L200.4 459.1 L202.0 459.0 L203.5 459.5 L205.0 459.1 L206.7 459.5 L208.5 460.0 L210.3 459.7 L212.1 459.8 L214.0 460.4 L215.8 460.4 L217.5 461.1 L219.1 460.4 L220.6 461.2 L221.9 460.9 L223.1 461.4 L224.0 461.2" fill="none" stroke="#1c1c1c" stroke-width="1.5" stroke-linejoin="round"/>
<path d="M47.1 349.4 L47.2 348.3 L47.2 346.7 L47.3 344.9 L47.5 343.0 L47.6 341.3 L47.8 340.0 L48.5 338.6 L49.5 337.5 L50.0 336.3 L50.6 334.7 L51.2 333.0 L51.8 331.5 L52.3 330.4 L53.0 329.4 L53.6 329.2 L54.2 328.9 L54.8 329.0 L55.5 329.8 L56.2 331.6 L56.6 333.0 L57.0 334.6 L57.4 336.6 L58.0 338.8 L58.4 340.0 L58.8 341.4 L59.2 342.9 L59.6 344.4 L60.1 345.9 L60.6 347.5 L61.1 349.0 L61.5 350.4 L62.0 352.0 L62.5 353.5 L63.0 355.0 L63.5 356.5 L64.0 358.0 L64.5 359.4 L65.0 360.8 L65.6 362.5 L66.2 364.1 L66.8 365.7 L67.4 367.3 L67.9 368.7 L68.4 370.0 L69.0 371.8 L69.5 373.0 L70.2 374.8 L70.8 376.0 L71.4 377.5 L72.2 379.1 L72.9 380.8 L73.7 382.2 L74.5 383.8 L75.3 385.2 L76.1 386.7 L76.9 388.0 L77.7 389.5 L78.5 390.8 L79.3 392.4 L80.1 393.7 L80.9 395.6 L81.6 396.7 L82.4 398.6 L83.2 399.7 L84.0 401.1 L84.8 402.8 L85.5 403.9 L86.2 405.2 L87.0 406.3 L87.9 407.8 L89.0 409.0 L89.8 410.5 L90.7 411.6 L91.6 413.2 L92.7 413.8 L93.7 415.2 L94.8 417.0 L95.9 418.5 L97.0 419.4 L98.0 420.8 L99.0 421.8 L100.2 423.0 L101.3 424.2 L102.4 425.4 L103.5 426.1 L104.6 427.3 L105.8 428.6 L107.1 429.3 L108.5 430.6 L109.6 431.3 L110.6 432.2 L111.7 433.2 L112.8 434.1 L114.0 435.1 L115.2 435.7 L116.5 436.3 L117.9 437.3 L119.3 438.0 L120.8 439.0 L122.5 440.1 L123.7 440.6 L124.9 441.0 L126.2 441.5 L127.5 442.1 L128.9 442.7 L130.4 443.6 L131.9 444.0 L133.4 445.0 L134.9 445.4 L136.4 445.9 L137.9 446.5 L139.4 446.8 L140.8 447.8 L142.3 448.4 L143.7 448.6 L145.0 449.3 L146.3 449.4 L148.0 450.0 L149.7 450.5 L151.3 451.0 L152.9 451.7 L154.4 452.2 L155.9 452.6 L157.4 452.6 L158.9 453.4 L160.4 453.5 L161.9 453.8 L163.4 454.2 L165.0 454.6 L166.5 454.7 L168.0 455.2 L169.5 455.7 L171.0 456.0 L172.5 456.4 L174.0 456.2 L175.6 457.0 L177.1 457.2 L178.6 457.4 L180.2 457.8 L181.7 457.5 L183.3 458.2 L184.8 458.6 L186.3 458.3 L187.9 458.9 L189.5 459.4 L191.0 459.2 L192.6 459.9 L194.2 460.2 L195.7 460.1 L197.3 460.1 L198.9 460.4 L200.4 461.1 L202.0 461.0 L203.5 461.2 L205.0 461.5 L206.7 462.0 L208.5 461.8 L210.3 461.8 L212.1 462.7 L214.0 462.4 L215.8 462.7 L217.5 463.3 L219.1 462.9 L220.6 463.0 L221.9 463.7 L223.1 463.3 L224.0 463.4" fill="none" stroke="#222" stroke-width="1.0" stroke-linejoin="round"/>
<text x="228.8" y="343.5" font-size="14.9" text-anchor="start" textLength="45.6" lengthAdjust="spacingAndGlyphs">ERp57</text>
<text x="226.3" y="379.8" font-size="15.2" text-anchor="start" textLength="42.2" lengthAdjust="spacingAndGlyphs">oo-oo</text>
<text x="226.6" y="397.6" font-size="15.2" text-anchor="start" textLength="40.6" lengthAdjust="spacingAndGlyphs">ss-oo</text>
<text x="227.4" y="432.3" font-size="15.2" text-anchor="start" textLength="60.6" lengthAdjust="spacingAndGlyphs">baseline</text>
<text x="227.1" y="461.1" font-size="15.2" text-anchor="start" textLength="40.2" lengthAdjust="spacingAndGlyphs">oo-ss</text>
<text x="227.1" y="476.4" font-size="15.2" text-anchor="start" textLength="39.2" lengthAdjust="spacingAndGlyphs">ss-ss</text>
<text x="306.9" y="18.8" font-size="24.6" text-anchor="start" textLength="16.7" lengthAdjust="spacingAndGlyphs" class="pl">B</text>
<line x1="373.1" y1="14.5" x2="373.1" y2="236.7" stroke="#000" stroke-width="2.4" stroke-linecap="butt"/>
<line x1="364.1" y1="235.5" x2="518.4" y2="235.5" stroke="#000" stroke-width="2.6" stroke-linecap="butt"/>
<line x1="364.1" y1="180.55" x2="373.1" y2="180.55" stroke="#000" stroke-width="2.4" stroke-linecap="butt"/>
<line x1="364.1" y1="125.60000000000001" x2="373.1" y2="125.60000000000001" stroke="#000" stroke-width="2.4" stroke-linecap="butt"/>
<line x1="364.1" y1="70.65" x2="373.1" y2="70.65" stroke="#000" stroke-width="2.4" stroke-linecap="butt"/>
<line x1="364.1" y1="15.700000000000017" x2="373.1" y2="15.700000000000017" stroke="#000" stroke-width="2.4" stroke-linecap="butt"/>
<text x="361.5" y="240.6" font-size="14.9" text-anchor="end">0</text>
<text x="361.5" y="185.65" font-size="14.9" text-anchor="end">50</text>
<text x="361.5" y="130.70000000000002" font-size="14.9" text-anchor="end">100</text>
<text x="361.5" y="75.75" font-size="14.9" text-anchor="end">150</text>
<text x="361.5" y="20.80000000000002" font-size="14.9" text-anchor="end">200</text>
<rect x="377.8" y="125.6" width="19.5" height="109.9" fill="#fff" stroke="#000" stroke-width="2.3"/>
<line x1="387.5" y1="235.5" x2="387.5" y2="243.3" stroke="#000" stroke-width="2.4" stroke-linecap="butt"/>
<rect x="406.9" y="202.0" width="19.5" height="33.5" fill="#fff" stroke="#000" stroke-width="2.3"/>
<line x1="416.6" y1="201.9805" x2="416.6" y2="194.837" stroke="#000" stroke-width="2.4" stroke-linecap="butt"/>
<line x1="410.70000000000005" y1="194.837" x2="422.5" y2="194.837" stroke="#000" stroke-width="2.4" stroke-linecap="butt"/>
<line x1="416.6" y1="235.5" x2="416.6" y2="243.3" stroke="#000" stroke-width="2.4" stroke-linecap="butt"/>
<rect x="436.1" y="182.7" width="19.5" height="52.8" fill="#fff" stroke="#000" stroke-width="2.3"/>
<line x1="445.8" y1="182.748" x2="445.8" y2="171.20850000000002" stroke="#000" stroke-width="2.4" stroke-linecap="butt"/>
<line x1="439.90000000000003" y1="171.20850000000002" x2="451.7" y2="171.20850000000002" stroke="#000" stroke-width="2.4" stroke-linecap="butt"/>
<line x1="445.8" y1="235.5" x2="445.8" y2="243.3" stroke="#000" stroke-width="2.4" stroke-linecap="butt"/>
<rect x="465.2" y="84.4" width="19.5" height="151.1" fill="#fff" stroke="#000" stroke-width="2.3"/>
<line x1="475.0" y1="84.38750000000002" x2="475.0" y2="76.14500000000001" stroke="#000" stroke-width="2.4" stroke-linecap="butt"/>
<line x1="469.1" y1="76.14500000000001" x2="480.9" y2="76.14500000000001" stroke="#000" stroke-width="2.4" stroke-linecap="butt"/>
<line x1="475.0" y1="235.5" x2="475.0" y2="243.3" stroke="#000" stroke-width="2.4" stroke-linecap="butt"/>
<rect x="494.6" y="82.7" width="19.5" height="152.8" fill="#fff" stroke="#000" stroke-width="2.3"/>
<line x1="504.4" y1="82.739" x2="504.4" y2="75.92520000000002" stroke="#000" stroke-width="2.4" stroke-linecap="butt"/>
<line x1="498.5" y1="75.92520000000002" x2="510.29999999999995" y2="75.92520000000002" stroke="#000" stroke-width="2.4" stroke-linecap="butt"/>
<line x1="504.4" y1="235.5" x2="504.4" y2="243.3" stroke="#000" stroke-width="2.4" stroke-linecap="butt"/>
<path d="M379.8 42.7 C379.8 37.35 385.05 32 390.3 32 L497.0 32 C502.25 32 507.5 37.35 507.5 42.7" fill="none" stroke="#000" stroke-width="2.1" stroke-linecap="round"/>
<path d="M379.8 63.5 C379.8 59.25 384.30 55 388.8 55 L472.4 55 C476.90 55 481.4 59.25 481.4 63.5" fill="none" stroke="#000" stroke-width="2.1" stroke-linecap="round"/>
<path d="M379.8 91.1 C379.8 86.20 383.80 81.3 387.8 81.3 L444.8 81.3 C448.80 81.3 452.8 86.20 452.8 91.1" fill="none" stroke="#000" stroke-width="2.1" stroke-linecap="round"/>
<path d="M379.8 116.8 C379.8 114.30 382.30 111.8 384.8 111.8 L420.4 111.8 C422.90 111.8 425.4 114.30 425.4 116.8" fill="none" stroke="#000" stroke-width="2.1" stroke-linecap="round"/>
<text x="414.3" y="25.2" font-size="15.0" text-anchor="start" textLength="48" lengthAdjust="spacingAndGlyphs">P&lt;0.05</text>
<text x="401" y="49" font-size="15.0" text-anchor="start" textLength="48" lengthAdjust="spacingAndGlyphs">P&lt;0.05</text>
<text x="384.3" y="77.4" font-size="15.0" text-anchor="start" textLength="55" lengthAdjust="spacingAndGlyphs">P&lt;0.001</text>
<text x="379" y="107.8" font-size="15.0" text-anchor="start" textLength="55" lengthAdjust="spacingAndGlyphs">P&lt;0.001</text>
<text x="0" y="0" transform="translate(397.9 250.9) rotate(-45)" font-size="14.8" text-anchor="end">baseline</text>
<text x="0" y="0" transform="translate(418.9 251.0) rotate(-45)" font-size="14.8" text-anchor="end">oo-oo</text>
<text x="0" y="0" transform="translate(448.1 250.9) rotate(-45)" font-size="14.8" text-anchor="end">ss-oo</text>
<text x="0" y="0" transform="translate(478.7 251.2) rotate(-45)" font-size="14.8" text-anchor="end">oo-ss</text>
<text x="0" y="0" transform="translate(508.5 250.9) rotate(-45)" font-size="14.8" text-anchor="end">ss-ss</text>
<text x="389.5" y="307.2" font-size="15.2" text-anchor="start" textLength="71.8" lengthAdjust="spacingAndGlyphs">Convulxin</text>
<text x="0" y="0" transform="translate(330.3 184.3) rotate(-90)" font-size="14.6" text-anchor="start" textLength="109" lengthAdjust="spacingAndGlyphs">% Aggregation</text>
<text x="307.0" y="321.5" font-size="24.6" text-anchor="start" textLength="16.7" lengthAdjust="spacingAndGlyphs" class="pl">D</text>
<line x1="374.2" y1="326.2" x2="374.2" y2="542.6" stroke="#000" stroke-width="2.4" stroke-linecap="butt"/>
<line x1="365.2" y1="541.4" x2="517.2" y2="541.4" stroke="#000" stroke-width="2.6" stroke-linecap="butt"/>
<line x1="365.2" y1="487.9" x2="374.2" y2="487.9" stroke="#000" stroke-width="2.4" stroke-linecap="butt"/>
<line x1="365.2" y1="434.4" x2="374.2" y2="434.4" stroke="#000" stroke-width="2.4" stroke-linecap="butt"/>
<line x1="365.2" y1="380.9" x2="374.2" y2="380.9" stroke="#000" stroke-width="2.4" stroke-linecap="butt"/>
<line x1="365.2" y1="327.4" x2="374.2" y2="327.4" stroke="#000" stroke-width="2.4" stroke-linecap="butt"/>
<text x="362.59999999999997" y="547.2" font-size="14.9" text-anchor="end">0</text>
<text x="362.59999999999997" y="493.2" font-size="14.9" text-anchor="end">50</text>
<text x="362.59999999999997" y="440.7" font-size="14.9" text-anchor="end">100</text>
<text x="362.59999999999997" y="386.4" font-size="14.9" text-anchor="end">150</text>
<text x="362.59999999999997" y="330.9" font-size="14.9" text-anchor="end">200</text>
<rect x="378.9" y="434.4" width="19.5" height="107.0" fill="#fff" stroke="#000" stroke-width="2.3"/>
<line x1="388.6" y1="541.4" x2="388.6" y2="549.1999999999999" stroke="#000" stroke-width="2.4" stroke-linecap="butt"/>
<rect x="407.8" y="493.8" width="19.5" height="47.6" fill="#fff" stroke="#000" stroke-width="2.3"/>
<line x1="417.5" y1="493.78499999999997" x2="417.5" y2="480.945" stroke="#000" stroke-width="2.4" stroke-linecap="butt"/>
<line x1="411.6" y1="480.945" x2="423.4" y2="480.945" stroke="#000" stroke-width="2.4" stroke-linecap="butt"/>
<line x1="417.5" y1="541.4" x2="417.5" y2="549.1999999999999" stroke="#000" stroke-width="2.4" stroke-linecap="butt"/>
<rect x="436.2" y="475.1" width="19.5" height="66.3" fill="#fff" stroke="#000" stroke-width="2.3"/>
<line x1="446.0" y1="475.05999999999995" x2="446.0" y2="468.10499999999996" stroke="#000" stroke-width="2.4" stroke-linecap="butt"/>
<line x1="440.1" y1="468.10499999999996" x2="451.9" y2="468.10499999999996" stroke="#000" stroke-width="2.4" stroke-linecap="butt"/>
<line x1="446.0" y1="541.4" x2="446.0" y2="549.1999999999999" stroke="#000" stroke-width="2.4" stroke-linecap="butt"/>
<rect x="464.6" y="398.6" width="19.5" height="142.8" fill="#fff" stroke="#000" stroke-width="2.3"/>
<line x1="474.4" y1="398.55499999999995" x2="474.4" y2="393.2049999999999" stroke="#000" stroke-width="2.4" stroke-linecap="butt"/>
<line x1="468.5" y1="393.2049999999999" x2="480.29999999999995" y2="393.2049999999999" stroke="#000" stroke-width="2.4" stroke-linecap="butt"/>
<line x1="474.4" y1="541.4" x2="474.4" y2="549.1999999999999" stroke="#000" stroke-width="2.4" stroke-linecap="butt"/>
<rect x="493.4" y="385.7" width="19.5" height="155.7" fill="#fff" stroke="#000" stroke-width="2.3"/>
<line x1="503.2" y1="385.715" x2="503.2" y2="380.15099999999995" stroke="#000" stroke-width="2.4" stroke-linecap="butt"/>
<line x1="497.3" y1="380.15099999999995" x2="509.09999999999997" y2="380.15099999999995" stroke="#000" stroke-width="2.4" stroke-linecap="butt"/>
<line x1="503.2" y1="541.4" x2="503.2" y2="549.1999999999999" stroke="#000" stroke-width="2.4" stroke-linecap="butt"/>
<path d="M380 356.3 C380 350.30 385.25 344.3 390.5 344.3 L497.3 344.3 C502.55 344.3 507.8 350.30 507.8 356.3" fill="none" stroke="#000" stroke-width="2.1" stroke-linecap="round"/>
<path d="M380 377.4 C380 373.05 384.50 368.7 389 368.7 L472.5 368.7 C477.00 368.7 481.5 373.05 481.5 377.4" fill="none" stroke="#000" stroke-width="2.1" stroke-linecap="round"/>
<path d="M380 404.0 C380 399.35 384.00 394.7 388 394.7 L445 394.7 C449.00 394.7 453 399.35 453 404.0" fill="none" stroke="#000" stroke-width="2.1" stroke-linecap="round"/>
<path d="M380 430.6 C380 428.10 382.50 425.6 385 425.6 L420.2 425.6 C422.70 425.6 425.2 428.10 425.2 430.6" fill="none" stroke="#000" stroke-width="2.1" stroke-linecap="round"/>
<text x="414.5" y="338" font-size="15.0" text-anchor="start" textLength="56" lengthAdjust="spacingAndGlyphs">P&lt;0.001</text>
<text x="401" y="362.3" font-size="15.0" text-anchor="start" textLength="48.2" lengthAdjust="spacingAndGlyphs">P&lt;0.05</text>
<text x="384.8" y="390.5" font-size="15.0" text-anchor="start" textLength="54.5" lengthAdjust="spacingAndGlyphs">P&lt;0.001</text>
<text x="379.2" y="420.5" font-size="15.0" text-anchor="start" textLength="55" lengthAdjust="spacingAndGlyphs">P&lt;0.001</text>
<text x="0" y="0" transform="translate(399.0 556.8) rotate(-45)" font-size="14.8" text-anchor="end">baseline</text>
<text x="0" y="0" transform="translate(421.5 557.4) rotate(-45)" font-size="14.8" text-anchor="end">oo-oo</text>
<text x="0" y="0" transform="translate(450.5 557.4) rotate(-45)" font-size="14.8" text-anchor="end">ss-oo</text>
<text x="0" y="0" transform="translate(479.4 557.1) rotate(-45)" font-size="14.8" text-anchor="end">oo-ss</text>
<text x="0" y="0" transform="translate(508.6 556.9) rotate(-45)" font-size="14.8" text-anchor="end">ss-ss</text>
<text x="390.2" y="611.4" font-size="15.2" text-anchor="start" textLength="67.4" lengthAdjust="spacingAndGlyphs">Thrombin</text>
<text x="0" y="0" transform="translate(329.2 493.2) rotate(-90)" font-size="14.6" text-anchor="start" textLength="108" lengthAdjust="spacingAndGlyphs">% Aggregation</text>
</svg>
</body></html>
